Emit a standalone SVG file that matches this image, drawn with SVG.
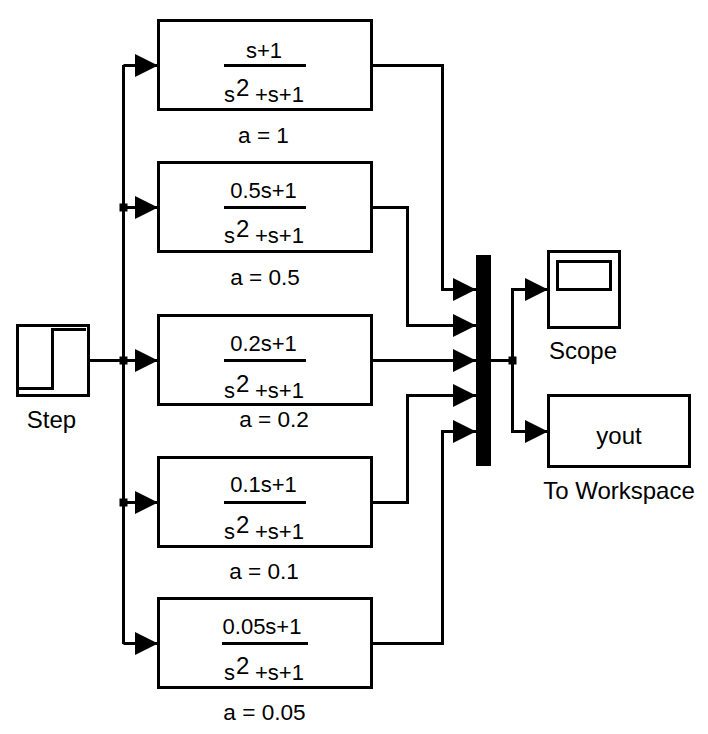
<svg xmlns="http://www.w3.org/2000/svg" width="708" height="734" viewBox="0 0 708 734">
<style>
text{font-family:"Liberation Sans",Arial,sans-serif;font-size:22px;fill:#000;text-anchor:middle}
.sup{font-size:24px;text-anchor:start}
.den{text-anchor:start}
.lab{font-size:22.600px}
.big{font-size:24px}
.b{fill:#fff;stroke:#000;stroke-width:3}
.l{fill:none;stroke:#000;stroke-width:3}
.a{fill:#000;stroke:none}
.c{fill:none;stroke:#000;stroke-width:3}
</style>
<defs>
<polygon id="ah" class="a" points="-23,-11.500 0,0 -23,11.500"/>
<rect id="j" class="a" x="-4" y="-4" width="8" height="8"/>
</defs>
<rect width="708" height="734" fill="#fff"/>
<g id="connectors">
<path class="c" d="M89 360.500H158M123.500 65V644M123.500 65.500H158M123.500 207.500H158M123.500 502.500H158M123.500 643.500H158"/>
<path class="c" d="M372 65.500H442.500V289.500H476M372 207.500H407.500V325.500H476M372 360.500H476M372 502.500H407.500V395.500H476M372 643.500H442.500V431.500H476"/>
<path class="c" d="M491 360.500H512.500M512.500 288V433M512.500 289.500H548M512.500 431.500H548"/>
<use href="#ah" x="158" y="65.500"/><use href="#ah" x="158" y="207.500"/><use href="#ah" x="158" y="360.500"/><use href="#ah" x="158" y="502.500"/><use href="#ah" x="158" y="643.500"/>
<use href="#ah" x="476" y="289.500"/><use href="#ah" x="476" y="325.500"/><use href="#ah" x="476" y="360.500"/><use href="#ah" x="476" y="395.500"/><use href="#ah" x="476" y="431.500"/>
<use href="#ah" x="548" y="289.500"/><use href="#ah" x="548" y="431.500"/>
<use href="#j" x="123.500" y="207.500"/><use href="#j" x="123.500" y="360.500"/><use href="#j" x="123.500" y="502.500"/><use href="#j" x="512.500" y="360.500"/>
</g>
<g id="step">
<rect class="b" x="17.500" y="325.500" width="71" height="70"/>
<path class="l" d="M18 388.500H52.500V329.500H86"/>
<text class="big" x="51.500" y="428">Step</text>
</g>
<g id="tf1">
<rect class="b" x="158.500" y="20.500" width="213" height="89"/>
<text x="264" y="58">s+1</text><path class="l" d="M224 65.500H306"/>
<text class="den" x="224" y="102">s</text><text class="sup" x="236" y="96">2</text><text class="den" x="255" y="102">+s+1</text>
<text class="lab" x="263.500" y="143">a = 1</text>
</g>
<g id="tf2">
<rect class="b" x="158.500" y="162.500" width="213" height="89"/>
<text x="263.500" y="198">0.5s+1</text><path class="l" d="M224 207.500H306"/>
<text class="den" x="224" y="243">s</text><text class="sup" x="236" y="237">2</text><text class="den" x="255" y="243">+s+1</text>
<text class="lab" x="265" y="285">a = 0.5</text>
</g>
<g id="tf3">
<rect class="b" x="158.500" y="315.500" width="213" height="89"/>
<text x="263.500" y="351">0.2s+1</text><path class="l" d="M224 360.500H306"/>
<text class="den" x="224" y="398">s</text><text class="sup" x="236" y="392">2</text><text class="den" x="255" y="398">+s+1</text>
<text class="lab" x="274" y="427">a = 0.2</text>
</g>
<g id="tf4">
<rect class="b" x="158.500" y="457.500" width="213" height="89"/>
<text x="263.500" y="492">0.1s+1</text><path class="l" d="M224 502.500H306"/>
<text class="den" x="224" y="539">s</text><text class="sup" x="236" y="533">2</text><text class="den" x="255" y="539">+s+1</text>
<text class="lab" x="264" y="579">a = 0.1</text>
</g>
<g id="tf5">
<rect class="b" x="158.500" y="598.500" width="213" height="89"/>
<text x="262" y="634">0.05s+1</text><path class="l" d="M222 643.500H308"/>
<text class="den" x="224" y="680">s</text><text class="sup" x="236" y="674">2</text><text class="den" x="255" y="680">+s+1</text>
<text class="lab" x="264.500" y="720">a = 0.05</text>
</g>
<g id="mux"><rect class="a" x="476" y="255" width="15" height="211"/></g>
<g id="scope">
<rect class="b" x="548.500" y="251.500" width="71" height="76"/>
<rect class="b" x="557.500" y="261.500" width="53" height="28"/>
<text class="big" x="583" y="359">Scope</text>
</g>
<g id="toworkspace">
<rect class="b" x="548.500" y="395.500" width="141" height="71"/>
<text class="big" x="619" y="444">yout</text>
<text class="big" x="619" y="499">To Workspace</text>
</g>
</svg>
